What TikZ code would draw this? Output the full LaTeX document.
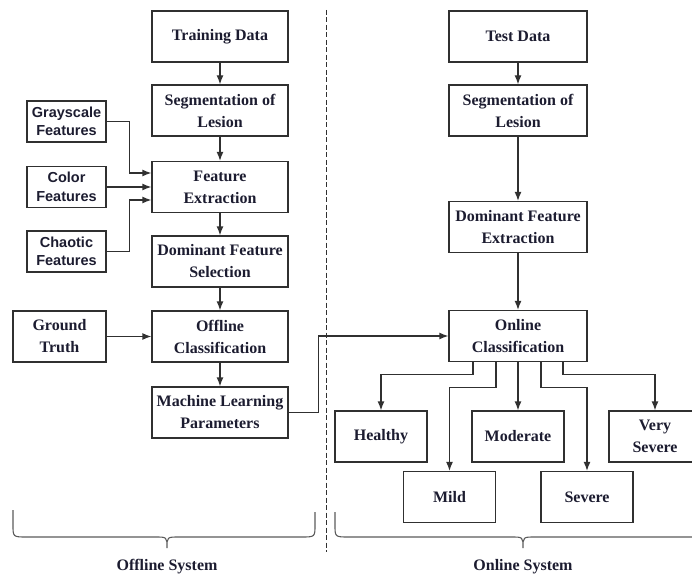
\documentclass[tikz,border=0pt]{standalone}
\usepackage{fontspec}
\setmainfont{Liberation Serif}
\setsansfont{Liberation Sans}
\usetikzlibrary{arrows.meta}
\definecolor{boxline}{HTML}{303030}
\definecolor{txt}{HTML}{1C1C30}
\definecolor{bracecol}{HTML}{5A5A5A}
\tikzset{
  box/.style={draw=boxline, line width=1.3pt, minimum width=136pt, minimum height=51pt,
    align=center, inner sep=1pt, text=txt,
    font=\fontsize{16}{22}\selectfont\bfseries},
  sidebox/.style={draw=boxline, line width=1.3pt, minimum width=79pt, minimum height=41pt,
    align=center, inner sep=1pt, text=txt,
    font=\sffamily\fontsize{14.5}{18.5}\selectfont\bfseries},
  outbox/.style={box, minimum width=92pt},
  arr/.style={draw=boxline, line width=1.3pt, -{Latex[length=9pt,width=7pt]}},
  bracestyle/.style={draw=bracecol, line width=1.1pt},
  divider/.style={draw=boxline, line width=1pt, dash pattern=on 5pt off 2.5pt},
  syslabel/.style={text=txt, font=\fontsize{16}{18}\selectfont\bfseries}
}
\begin{document}
\begin{tikzpicture}[x=1pt,y=-1pt]
\useasboundingbox (0,0) rectangle (692,577);
% left column
\node[box] (td)  at (220,36.5) {Training Data};
\node[box] (sl)  at (220,110.5) {Segmentation of\\Lesion};
\node[box] (fe)  at (220,187) {Feature\\Extraction};
\node[box] (dfs) at (220,261.5) {Dominant Feature\\Selection};
\node[box] (oc)  at (220,336.5) {Offline\\Classification};
\node[box] (mlp) at (220,412.5) {Machine Learning\\Parameters};
\node[sidebox] (gf)  at (66.5,121.5) {Grayscale\\Features};
\node[sidebox] (cf)  at (66.5,187) {Color\\Features};
\node[sidebox] (chf) at (66.5,251.5) {Chaotic\\Features};
\node[box, minimum width=93pt] (gt) at (59.5,336.5) {Ground\\Truth};
% right column
\node[box, minimum width=138pt] (ttd) at (518,36.5) {Test Data};
\node[box, minimum width=138pt] (sl2) at (518,110.5) {Segmentation of\\Lesion};
\node[box, minimum width=138pt] (dfe) at (518,227) {Dominant Feature\\Extraction};
\node[box, minimum width=138pt] (onc) at (518,336) {Online\\Classification};
\node[outbox] (hl) at (381,436.5) {Healthy};
\node[outbox] (md) at (518,436.5) {Moderate};
\node[outbox] (vs) at (655,436.5) {Very\\Severe};
\node[outbox] (ml) at (449.5,497) {Mild};
\node[outbox] (sv) at (587,497) {Severe};
% left arrows
\draw[arr] (td) -- (sl);
\draw[arr] (sl) -- (fe);
\draw[arr] (fe) -- (dfs);
\draw[arr] (dfs) -- (oc);
\draw[arr] (oc) -- (mlp);
\draw[arr] (gf.east) -- ++(23,0) |- ([yshift=14pt]fe.west);
\draw[arr] (cf.east) -- (fe.west);
\draw[arr] (chf.east) -- ++(23,0) |- ([yshift=-13pt]fe.west);
\draw[arr] (gt.east) -- (oc.west);
% right arrows
\draw[arr] (ttd) -- (sl2);
\draw[arr] (sl2) -- (dfe);
\draw[arr] (dfe) -- (onc);
\draw[arr] (mlp.east) -- ++(30,0) |- (onc.west);
\draw[arr] ([xshift=-45pt]onc.south) -- ++(0,12) -| (hl.north);
\draw[arr] ([xshift=-22pt]onc.south) -- ++(0,25) -| (ml.north);
\draw[arr] (onc.south) -- (md.north);
\draw[arr] ([xshift=23pt]onc.south) -- ++(0,25) -| (sv.north);
\draw[arr] ([xshift=45pt]onc.south) -- ++(0,12) -| (vs.north);
% divider
\coordinate (dtop) at (326,10);
\coordinate (dbot) at (326,552);
\draw[divider] (dtop) -- (dbot);
% braces
\draw[bracestyle] (13,510) -- (13,525) .. controls (13,537) .. (27,537) -- (155,537)
  .. controls (167,537) .. (167,548) .. controls (167,537) .. (179,537) -- (301,537)
  .. controls (315,537) .. (315,525) -- (315,512);
\draw[bracestyle] (335,512) -- (335,525) .. controls (335,537) .. (349,537) -- (511,537)
  .. controls (523,537) .. (523,548) .. controls (523,537) .. (535,537) -- (697,537)
  .. controls (711,537) .. (711,525) -- (711,512);
\node[syslabel] (offl) at (167,567) {Offline System};
\node[syslabel] (onl) at (523,567) {Online System};
\end{tikzpicture}
\end{document}
